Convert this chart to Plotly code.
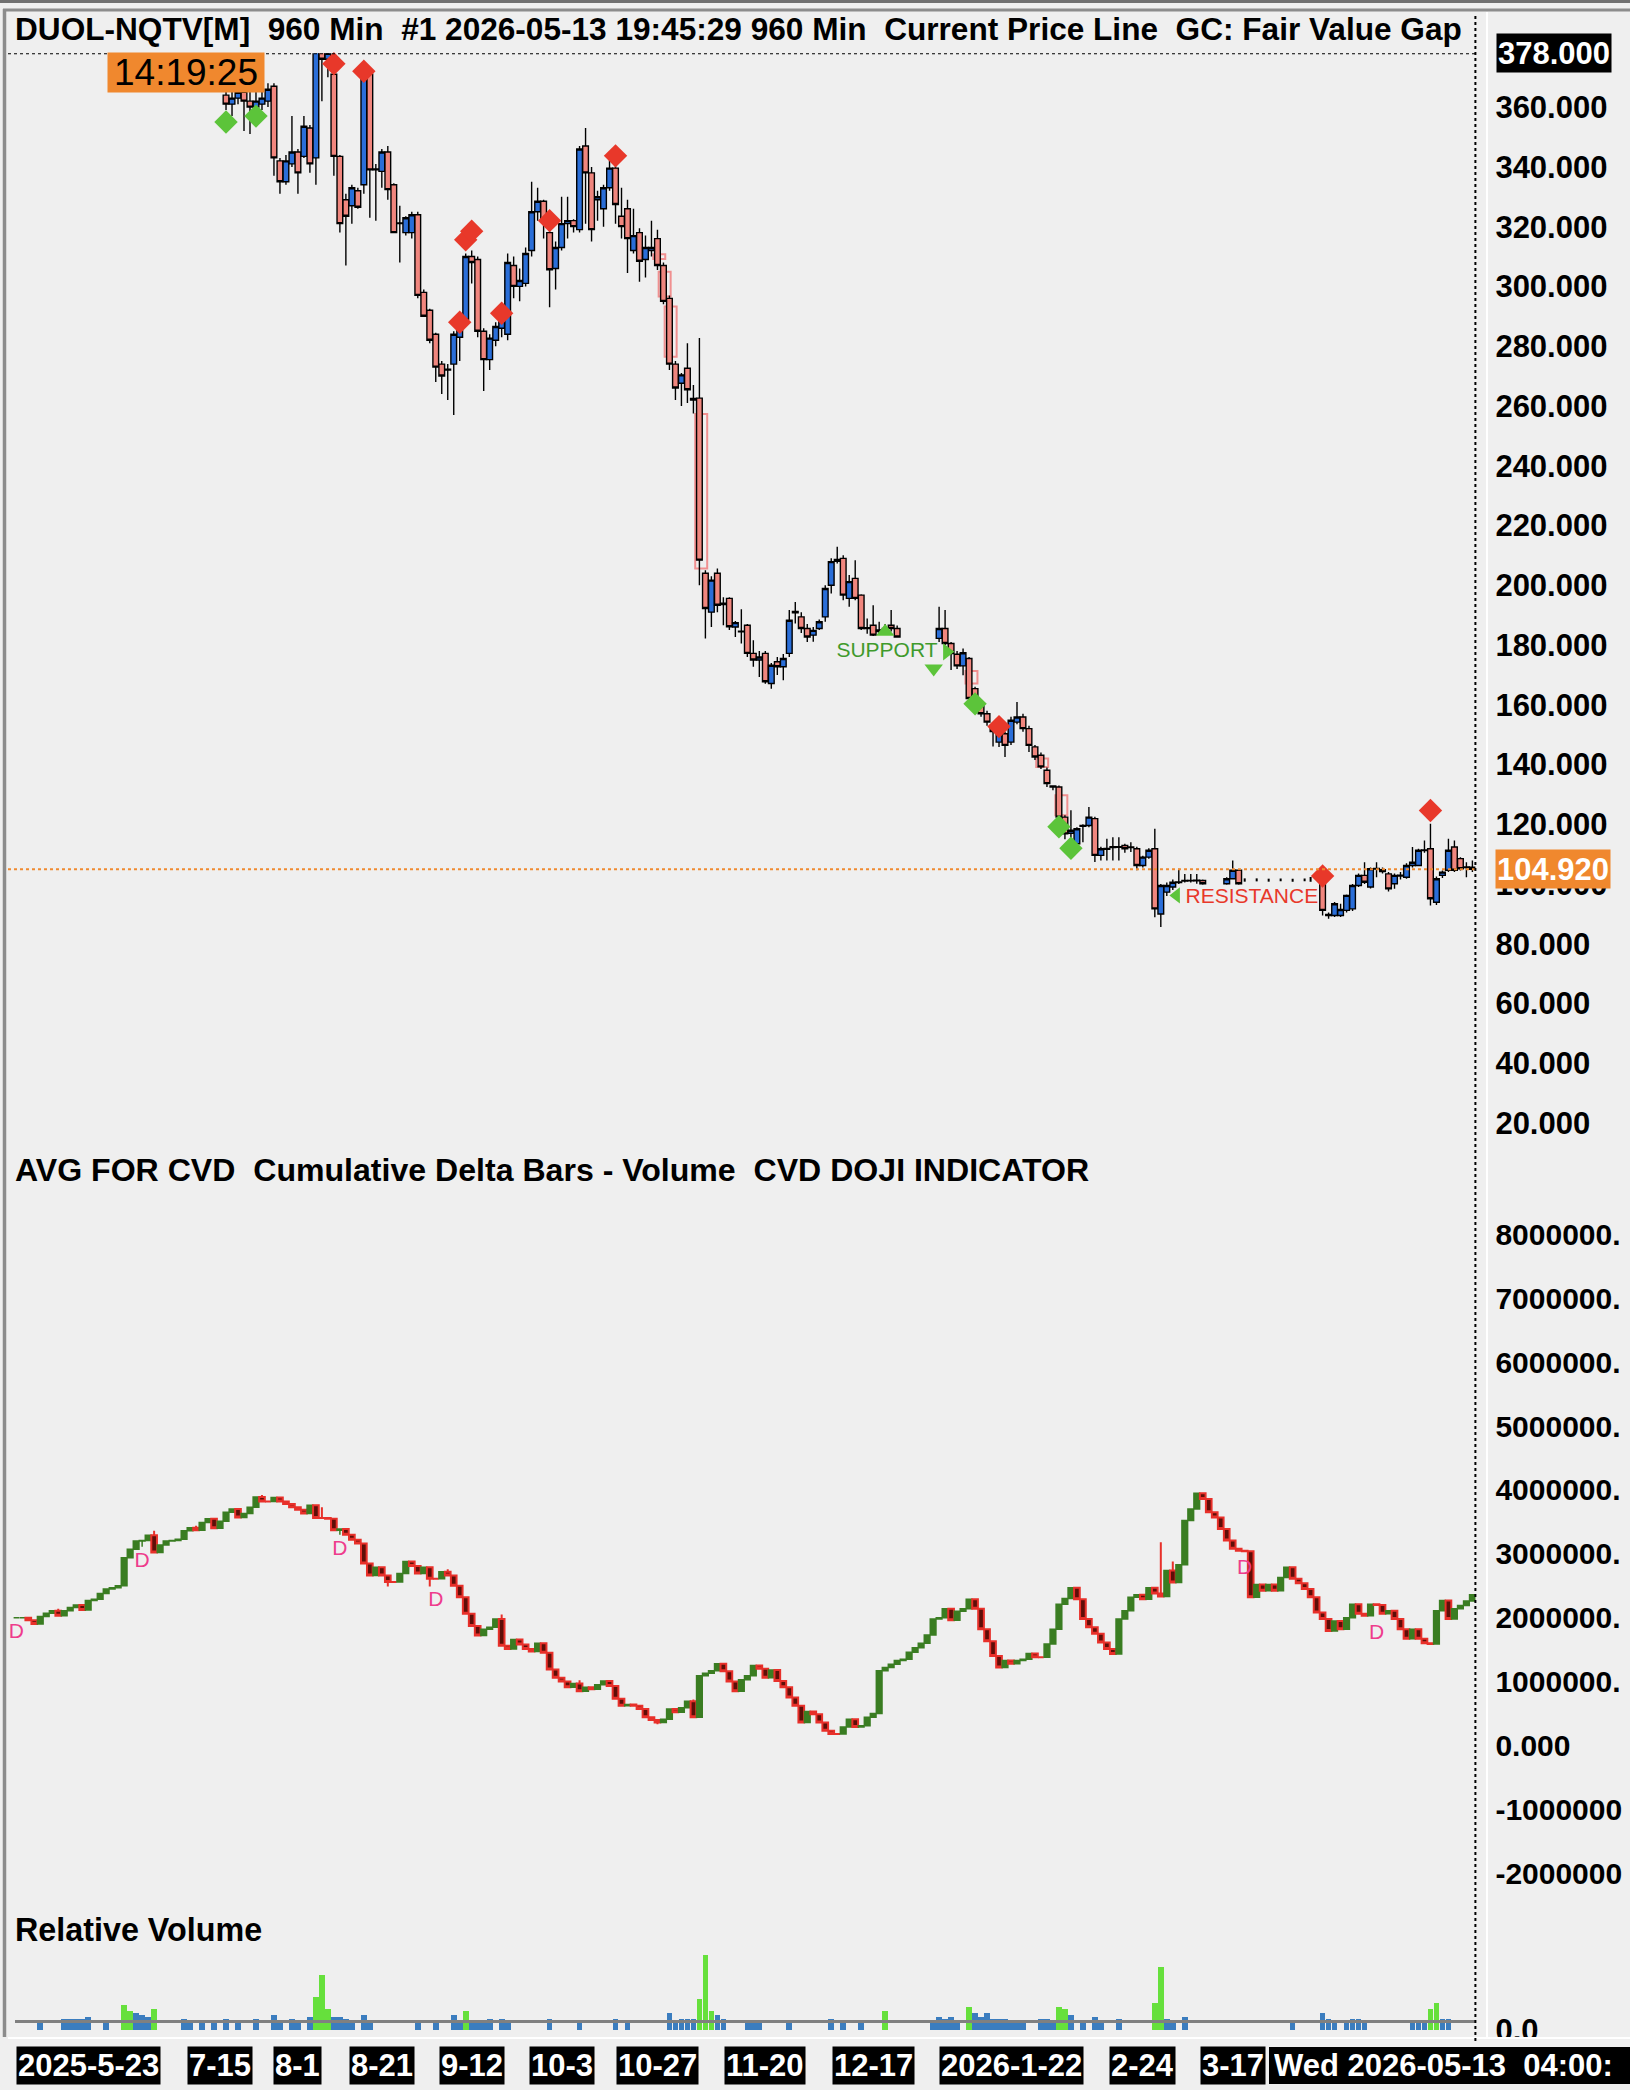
import plotly.graph_objects as go

# ======================= DATA =======================
# --- price candles (bar index, OHLC) ---
price_idx = (list(range(35, 148)) + list(range(154, 199))
             + [202, 203, 204] + list(range(218, 244)))

price_open = [
    364, 361, 363, 365, 362, 360, 361, 362,
    367, 342, 335, 341, 345, 343.5, 353, 343,
    379, 376, 371, 343.5, 329, 327, 332, 334,
    371, 339, 338.5, 345, 334, 321, 318, 318,
    324, 298, 292, 284, 274, 272, 274, 283,
    289, 310, 309, 285, 275.5, 282, 286, 284,
    307, 300, 301, 312, 325, 328.5, 318, 306,
    313, 321, 322, 319, 347, 338, 329, 326,
    333, 339.6, 323.5, 326, 312, 318, 309, 312,
    316, 307, 296, 274, 267.6, 272.6, 262, 262.6,
    204, 191, 204, 193.5, 195.6, 186, 184.4, 186.6,
    177.2, 175, 177.2, 167.1, 174.4, 172.7, 177.2, 190.8,
    189.4, 185.5, 183.3, 185.5, 189.4, 200, 208, 209,
    195.6, 202.3, 196.7, 185.5, 186.6, 184.5, 185, 186.6, 185.5,
    182.2, 185.5, 180.5, 176.9, 173, 175.5, 165.4, 160,
    157, 152, 147.5, 150.3, 147.5, 154.2, 155.9, 152,
    145.9, 143.1, 138.1, 132.5, 132.5, 122.4, 117, 113.5,
    119.3, 119.6, 121.9, 109.6, 111.6, 112.2, 112.5, 112.9,
    112.2, 111.8, 106.2, 109, 111.8, 90, 97.3, 99,
    100.5, 101, 101.2, 101.1, 101.2,
    100.1, 101.8, 104.6,
    103.4, 89.8, 89.5, 89.5, 91.2, 91.7, 99.5, 102.9,
    99, 105, 104.8, 103.4, 100.1, 102.7, 102.3, 106.2,
    106.2, 111.2, 111.8, 93.9, 102.9, 104.6, 112.4, 108.5, 105.5, 105.6,
]
price_high = [
    370, 367, 372, 368, 366, 366, 367, 368,
    368, 343, 344, 357, 346, 357, 354, 382,
    384, 383, 375, 344, 331, 334, 333, 373,
    371.5, 341, 346, 347, 334.5, 327, 323.5, 325,
    325, 299, 292.5, 284.5, 275, 274, 285, 290,
    311, 312, 310, 286, 284, 288, 292, 311,
    310, 306, 313, 335, 333, 329, 319, 315,
    330, 330, 322.5, 347, 353, 340, 332, 334,
    345, 343, 333, 329, 326, 319.5, 317, 322,
    319, 308, 297, 275, 271, 281, 267, 282.7,
    205, 203, 205.6, 196, 196, 188, 192, 187,
    181.6, 178, 178, 174, 176, 177, 191.7, 194.4,
    191, 187, 186, 188.5, 200, 209, 212.9, 210,
    203.4, 208.4, 197, 188.9, 193.3, 187.8, 187, 191.7, 186.5,
    192.8, 191.7, 181, 178, 178.8, 176, 166, 161,
    158, 153, 153, 151, 156, 160.9, 157, 153,
    146.5, 144, 139, 133, 133, 123, 124.7, 119,
    120, 125.8, 122.5, 112.5, 115.2, 115.7, 115.7, 113.5,
    114, 112.5, 109.5, 112, 118.5, 100, 100.5, 101.5,
    105.1, 103.4, 103.4, 103.4, 101.5,
    102.3, 107.9, 105,
    104, 90.5, 94, 93.4, 96.5, 100, 103.5, 107.3,
    105.5, 107.3, 105.5, 104, 103.5, 104, 107, 112.4,
    111.8, 114.6, 120.2, 102.5, 104.5, 115.2, 114.6, 109, 107.3, 107.9,
]
price_low = [
    359, 357, 361, 352, 351, 358, 359, 360,
    337, 331, 334, 340, 331, 343, 338, 334,
    362, 370, 337, 318, 307, 321, 326, 331,
    323, 322, 333, 329, 318, 308, 317, 316,
    296, 290, 281, 268, 264, 262, 257, 275,
    287, 301, 283, 265, 272, 280, 283, 282,
    296, 295, 300, 310, 322, 316, 293, 299,
    312, 316, 318, 318, 321, 315, 322, 320,
    332, 321, 316, 304.5, 311, 301.6, 303, 310,
    305.5, 294, 272, 262, 260, 261, 257.5, 200,
    182.2, 186, 191, 186.6, 185, 182.7, 180.5, 176,
    172.7, 169.3, 167, 165.4, 170, 168.2, 176, 187.2,
    184, 181, 181.1, 185, 187.8, 197.2, 207.3, 195,
    192.8, 195, 185, 183.8, 183, 183.5, 183.5, 184.5, 182.5,
    181, 180, 171.6, 172, 169.9, 161, 158.5, 156,
    153, 146, 145.9, 142.5, 146.5, 153.5, 151, 144.2,
    141.5, 138.5, 132.5, 131.4, 121.5, 115, 114, 112.5,
    114, 119, 107.4, 107.9, 107.9, 107.9, 107.9, 110.5,
    110.7, 104.6, 105.5, 108.5, 88.9, 85.6, 96, 98,
    100, 100.5, 100.5, 100.1, 99.8,
    99.8, 101.5, 99.8,
    89.5, 88.4, 89, 89, 90.5, 91, 99, 100,
    98.5, 102.3, 103.5, 97.5, 98.4, 101.5, 101.8, 105.5,
    106, 110.5, 92.8, 93, 102, 104, 104, 104.5, 102.3, 104,
]
price_close = [
    361, 363, 365, 362, 360, 362, 363, 366,
    343, 335, 342, 345, 338, 353.6, 341, 380,
    376, 378, 343.5, 321, 323.5, 333, 326.5, 371,
    339, 339.3, 345, 332.4, 318, 321.2, 323, 324,
    297, 290, 282, 273, 270, 272.3, 284, 288,
    310, 308, 285, 275.5, 282.7, 286.6, 290, 308,
    300, 302, 311, 325, 328.5, 322, 305.6, 313,
    321, 322, 320, 346, 338, 319, 330, 333,
    339.6, 327.4, 320, 316, 317, 308.4, 313, 313,
    307, 295, 274, 266, 270.4, 265.4, 262.5, 208.4,
    192.2, 201.7, 193.3, 194, 186.1, 187.5, 184.6, 177.2,
    175, 176, 167.7, 173.2, 172.7, 175.5, 188.3, 191.2,
    185.5, 182.7, 184.9, 187.8, 198.9, 207.9, 208.6, 196.7,
    201.2, 195.6, 185.5, 185.8, 183.3, 185, 185.5, 185.5, 182.7,
    185.5, 180.5, 177.1, 173, 177.4, 162.1, 159.8, 157,
    154.2, 151, 151.5, 146.4, 154.8, 155.9, 152, 146.4,
    142.5, 139.2, 133.6, 132.8, 122.4, 116.8, 118, 118.5,
    119.6, 122.4, 109.6, 111.8, 111.9, 112.5, 112.3, 111.8,
    112.4, 106.2, 109, 111.3, 91.7, 99.5, 99.5, 100.6,
    100.7, 101.2, 101.1, 101.3, 100.1,
    101.8, 104.6, 100.1,
    91.2, 89.5, 93.4, 91.5, 96.2, 99.5, 102.9, 100.6,
    105.1, 105.2, 104.2, 98.4, 102.9, 103, 106.2, 107.3,
    111.3, 111.4, 95.1, 101.8, 104, 111.3, 104.6, 105.1, 105.7, 104.92,
]

# thin (no-range) bars drawn as ticks
tick_idx = [205, 207, 209, 211, 213, 215, 216]
tick_open = [101.2, 101.2, 101.2, 101.2, 101.2, 101.2, 101.2]
tick_high = [101.9, 101.9, 101.8, 101.9, 101.8, 101.9, 102.4]
tick_low = [100.8, 100.9, 100.8, 100.9, 100.8, 100.9, 100.8]
tick_close = [101.2, 101.2, 101.2, 101.2, 101.2, 101.2, 101.3]

# --- price study markers ---
buy_idx = [35, 40, 160, 174, 176]
buy_val = [355, 357, 160.3, 119.2, 112]
sell_idx = [53, 58, 74, 75, 76, 81, 89, 100, 164, 218, 236]
sell_val = [374.5, 372, 288, 315.6, 318.5, 291, 322, 343.7, 152.7, 102.7, 124.6]

# fair value gaps: centre bar, top, bottom
fvg_idx = [107.3, 108.2, 109.2, 114.3, 159.4, 171.2, 174.4]
fvg_top = [310.8, 304.9, 293.3, 257.3, 171.3, 142.0, 129.7]
fvg_bot = [309.2, 296.6, 276.5, 205.6, 167.1, 139.2, 123.0]

support_idx, support_val = 145.3, 177.7
resist_idx, resist_val = 206.2, 95.5
sup_tri_up = (145, 184.4)
sup_tri_down = (153.1, 172.1)
sup_tri_right = (155.3, 177.7)
res_tri_left = (193.6, 96.2)

price_ticks = [20, 40, 60, 80, 100, 120, 140, 160, 180, 200, 220, 240,
               260, 280, 300, 320, 340, 360]
price_axis_top = 378.0

# --- cumulative delta (millions), closes per bar 0..243 ---
cvd_close = [
    2.00, 2.00, 1.96, 1.90, 2.02, 2.07, 2.11, 2.03, 2.11, 2.16,
    2.20, 2.12, 2.27, 2.29, 2.38, 2.45, 2.47, 2.50, 2.94, 3.07,
    3.20, 3.21, 3.29, 3.02, 3.14, 3.20, 3.21, 3.23, 3.36, 3.41,
    3.37, 3.49, 3.55, 3.40, 3.51, 3.65, 3.70, 3.57, 3.63, 3.73,
    3.89, 3.82, 3.82, 3.88, 3.82, 3.78, 3.73, 3.69, 3.63, 3.76,
    3.56, 3.56, 3.55, 3.37, 3.39, 3.30, 3.22, 3.16, 2.85, 2.66,
    2.79, 2.66, 2.56, 2.56, 2.69, 2.88, 2.81, 2.69, 2.79, 2.61,
    2.61, 2.72, 2.66, 2.50, 2.32, 2.06, 1.87, 1.72, 1.82, 1.85,
    1.98, 1.56, 1.51, 1.66, 1.58, 1.51, 1.47, 1.60, 1.45, 1.19,
    1.06, 1.00, 0.91, 0.97, 0.85, 0.91, 0.88, 0.95, 1.01, 0.93,
    0.73, 0.62, 0.64, 0.62, 0.57, 0.44, 0.40, 0.36, 0.41, 0.57,
    0.52, 0.59, 0.69, 0.44, 1.09, 1.13, 1.17, 1.28, 1.16, 1.00,
    0.85, 1.03, 1.09, 1.25, 1.20, 1.06, 1.18, 1.01, 0.91, 0.75,
    0.62, 0.36, 0.53, 0.49, 0.36, 0.23, 0.18, 0.18, 0.29, 0.41,
    0.29, 0.31, 0.44, 0.50, 1.17, 1.22, 1.27, 1.33, 1.35, 1.46,
    1.53, 1.60, 1.73, 1.98, 2.00, 2.14, 1.96, 2.10, 2.14, 2.29,
    2.14, 1.82, 1.63, 1.40, 1.22, 1.33, 1.28, 1.33, 1.35, 1.44,
    1.38, 1.38, 1.59, 1.82, 2.21, 2.30, 2.47, 2.29, 1.98, 1.85,
    1.75, 1.61, 1.51, 1.43, 1.98, 2.11, 2.32, 2.36, 2.29, 2.47,
    2.38, 2.33, 2.74, 2.55, 2.83, 3.52, 3.70, 3.95, 3.86, 3.65,
    3.57, 3.39, 3.21, 3.08, 3.05, 3.04, 2.32, 2.52, 2.42, 2.52,
    2.42, 2.63, 2.79, 2.61, 2.54, 2.45, 2.32, 2.08, 1.98, 1.79,
    1.95, 1.82, 2.00, 2.21, 2.06, 2.03, 2.21, 2.20, 2.06, 2.11,
    1.98, 1.82, 1.67, 1.82, 1.67, 1.60, 1.59, 2.11, 2.27, 1.98,
    2.14, 2.19, 2.26, 2.36,
]
cvd_wick_hi_idx = [7, 23, 30, 41, 50, 51, 72, 81, 94, 113, 191, 193]
cvd_wick_hi_val = [2.14, 3.36, 3.44, 3.92, 3.77, 3.73, 2.76, 2.05, 1.02, 0.72, 3.18, 2.88]
cvd_wick_lo_idx = [21, 54, 62, 69, 107]
cvd_wick_lo_val = [3.11, 3.30, 2.49, 2.49, 0.33]

doji_idx = [0, 21, 54, 70, 205, 227]
doji_val = [1.77, 2.87, 3.07, 2.27, 2.76, 1.75]

cvd_ticks = [-2, -1, 0, 1, 2, 3, 4, 5, 6, 7, 8]   # millions
# scale labels as far as they are visible at the right edge of the window
cvd_tick_text = ["-2000000", "-1000000", "0.000", "1000000.", "2000000.", "3000000.",
                 "4000000.", "5000000.", "6000000.", "7000000.", "8000000."]

# --- relative volume ---
vol_idx = [4, 8, 9, 10, 11, 12, 15, 18, 19, 20, 21, 22, 23, 28, 29, 31, 33, 35, 37, 40,
           43, 44, 46, 47, 49, 50, 51, 52, 53, 54, 55, 56, 58, 59, 67, 70, 73, 74, 75, 76,
           77, 78, 79, 81, 82, 89, 94, 100, 102, 109, 110, 111, 112, 113, 114, 115, 116, 117,
           118, 122, 123, 124, 129, 136, 138, 141, 145, 153, 154, 155, 156, 157, 159, 160,
           161, 162, 163, 164, 165, 166, 167, 168, 171, 172, 173, 174, 175, 176, 178, 180,
           181, 184, 190, 191, 192, 193, 195, 213, 218, 219, 220, 222, 223, 224, 225, 233,
           234, 235, 236, 237, 238, 239]
vol_val = [0.88, 1.26, 1.26, 1.26, 1.26, 1.50, 0.88, 2.92, 2.23, 1.95, 1.76, 1.53, 2.42, 1.26,
           0.88, 0.88, 0.88, 1.26, 0.88, 1.26, 1.76, 0.88, 1.26, 0.88, 1.53, 3.84, 6.38, 2.42,
           1.53, 1.53, 1.26, 0.88, 1.76, 0.88, 0.88, 0.88, 1.76, 0.88, 2.23, 0.88, 0.88, 0.88,
           1.26, 1.26, 0.88, 1.26, 0.88, 1.26, 0.88, 1.95, 0.88, 1.26, 1.26, 1.26, 3.57, 8.69,
           2.23, 1.76, 1.26, 0.88, 0.88, 0.88, 0.88, 1.26, 0.88, 0.88, 2.23, 0.88, 1.53, 1.26,
           1.53, 0.88, 2.69, 1.99, 1.53, 1.99, 1.26, 1.26, 1.26, 0.88, 0.88, 0.88, 1.26, 1.26,
           0.88, 2.69, 2.45, 1.76, 0.88, 1.53, 0.88, 1.26, 3.19, 7.30, 1.26, 0.88, 1.53, 0.88,
           1.99, 1.26, 0.88, 0.88, 1.26, 1.26, 0.88, 0.88, 0.88, 0.88, 2.45, 3.15, 1.26, 1.26]
vol_avg_level = 1.0
vol_high_threshold = 2.0

# --- time axis labels (bar index, text) ---
date_tick_idx = [12, 34, 47, 61, 76, 91, 107, 125, 143, 166, 188, 203]
date_tick_text = ["2025-5-23", "7-15", "8-1", "8-21", "9-12", "10-3", "10-27",
                  "11-20", "12-17", "2026-1-22", "2-24", "3-17"]
last_bar_text = "Wed 2026-05-13\u00a0 04:00:"
timer_text = "14:19:25"

title_text = ("DUOL-NQTV[M]\u00a0 960 Min\u00a0 #1 2026-05-13 19:45:29 960 Min\u00a0 "
              "Current Price Line\u00a0 GC: Fair Value Gap")
cvd_title = "AVG FOR CVD\u00a0 Cumulative Delta Bars - Volume\u00a0 CVD DOJI INDICATOR"
vol_title = "Relative Volume"

assert len(price_open) == len(price_idx) == len(price_high) == len(price_low) == len(price_close)
assert len(cvd_close) == 244 and len(vol_idx) == len(vol_val)

# ======================= LAYOUT HELPERS =======================
W, H_REF = 1630, 2090     # reference geometry
H_FIG = 2102              # figure height (page is rescaled to the window afterwards)
PX0, PX1 = 13.3, 1475.4
FONT = "Liberation Sans, Arial, sans-serif"
BG = "#efefef"


def fx(px):
    return px / W


def fy(px):
    return 1 - px / H_REF


XD = [fx(PX0), fx(PX1)]
XR = [-0.5, 243.5]

# derived CVD bars (a cumulative bar opens at the previous close)
cvd_open = [cvd_close[0]] + cvd_close[:-1]
hi_map = dict(zip(cvd_wick_hi_idx, cvd_wick_hi_val))
lo_map = dict(zip(cvd_wick_lo_idx, cvd_wick_lo_val))
cvd_high = [max(o, c, hi_map.get(i, -1e9)) for i, (o, c) in enumerate(zip(cvd_open, cvd_close))]
cvd_low = [min(o, c, lo_map.get(i, 1e9)) for i, (o, c) in enumerate(zip(cvd_open, cvd_close))]
M = 1e6

fig = go.Figure()

# ---------------- price panel ----------------
fig.add_trace(go.Candlestick(
    x=price_idx, open=price_open, high=price_high, low=price_low, close=price_close,
    xaxis="x", yaxis="y", whiskerwidth=0, hoverinfo="skip", showlegend=False,
    increasing=dict(line=dict(color="#000000", width=1.4), fillcolor="#2a6ed8"),
    decreasing=dict(line=dict(color="#000000", width=1.4), fillcolor="#f0867e"),
))
fig.add_trace(go.Ohlc(
    x=tick_idx, open=tick_open, high=tick_high, low=tick_low, close=tick_close,
    xaxis="x", yaxis="y", tickwidth=0, hoverinfo="skip", showlegend=False,
    increasing=dict(line=dict(color="#000000", width=2)),
    decreasing=dict(line=dict(color="#000000", width=2)),
))
fig.add_trace(go.Scatter(x=buy_idx, y=buy_val, mode="markers", xaxis="x", yaxis="y",
                         marker=dict(symbol="diamond", size=18, color="#5cc43a"),
                         hoverinfo="skip", showlegend=False, cliponaxis=False))
fig.add_trace(go.Scatter(x=sell_idx, y=sell_val, mode="markers", xaxis="x", yaxis="y",
                         marker=dict(symbol="diamond", size=18, color="#e8382a"),
                         hoverinfo="skip", showlegend=False, cliponaxis=False))
for sym, pt, sz in [("triangle-up", sup_tri_up, 16), ("triangle-down", sup_tri_down, 16),
                    ("triangle-right", sup_tri_right, 15), ("triangle-left", res_tri_left, 14)]:
    fig.add_trace(go.Scatter(x=[pt[0]], y=[pt[1]], mode="markers", xaxis="x", yaxis="y",
                             marker=dict(symbol=sym, size=sz, color="#5cc43a"),
                             hoverinfo="skip", showlegend=False))
fig.add_trace(go.Scatter(x=[support_idx], y=[support_val], mode="text", text=["SUPPORT"],
                         textfont=dict(family=FONT, size=21, color="#3f9a2c"),
                         xaxis="x", yaxis="y", hoverinfo="skip", showlegend=False))
fig.add_trace(go.Scatter(x=[resist_idx], y=[resist_val], mode="text", text=["RESISTANCE"],
                         textfont=dict(family=FONT, size=21, color="#e8382a"),
                         xaxis="x", yaxis="y", hoverinfo="skip", showlegend=False))

# ---------------- CVD panel ----------------
fig.add_trace(go.Candlestick(
    x=list(range(len(cvd_close))),
    open=[v * M for v in cvd_open], high=[v * M for v in cvd_high],
    low=[v * M for v in cvd_low], close=[v * M for v in cvd_close],
    xaxis="x2", yaxis="y2", whiskerwidth=0, hoverinfo="skip", showlegend=False,
    increasing=dict(line=dict(color="#3a7d22", width=1.5), fillcolor="#3a7d22"),
    decreasing=dict(line=dict(color="#e8302a", width=2), fillcolor="#5e0e08"),
))
fig.add_trace(go.Scatter(x=doji_idx, y=[v * M for v in doji_val], mode="text",
                         text=["D"] * len(doji_idx),
                         textfont=dict(family=FONT, size=21, color="#ee3c8c"),
                         xaxis="x2", yaxis="y2", hoverinfo="skip", showlegend=False,
                         cliponaxis=False))

# ---------------- volume panel ----------------
fig.add_trace(go.Bar(x=vol_idx, y=vol_val, xaxis="x3", yaxis="y3", width=0.95,
                     marker=dict(color=["#66e03c" if v > vol_high_threshold else "#3b7dbf"
                                        for v in vol_val], line=dict(width=0)),
                     hoverinfo="skip", showlegend=False))

# ---------------- axes ----------------
hidden_x = dict(domain=XD, range=XR, visible=False, fixedrange=True,
                rangeslider=dict(visible=False))
price_top_px, price_bot_px = 53.3, 1146.0
ppx = 2.986  # px per dollar
price_lo = 100 - (price_bot_px - 883.7) / ppx
cvd_zero_px, cvd_px_per_m = 1744.6, 63.84
cvd_top_px, cvd_bot_px = 1193.0, 1906.0
vol_zero_px, vol_px_per_unit = 2029.3, 8.663
vol_top_px, vol_bot_px = 1940.0, 2036.0


def axis_style(size):
    return dict(side="right", showgrid=False, zeroline=False, showline=False,
                ticks="", ticklabelstandoff=19, fixedrange=True,
                tickfont=dict(family=FONT, size=size, color="#000000", weight="bold"))


fig.update_layout(
    width=W, height=H_FIG, autosize=False,
    margin=dict(l=0, r=0, t=0, b=0, pad=0),
    paper_bgcolor=BG, plot_bgcolor=BG,
    showlegend=False, hovermode=False,
    boxgap=0.05, boxgroupgap=0.0,
    bargap=0,
    xaxis=dict(**hidden_x, anchor="y"),
    xaxis2=dict(**hidden_x, anchor="y2"),
    xaxis3=dict(**hidden_x, anchor="y3"),
    yaxis=dict(domain=[fy(price_bot_px), fy(price_top_px)],
               range=[price_lo, price_axis_top], anchor="x",
               tickvals=price_ticks, ticktext=[f"{v:.3f}" for v in price_ticks],
               **axis_style(31)),
    yaxis2=dict(domain=[fy(cvd_bot_px), fy(cvd_top_px)],
                range=[(cvd_zero_px - cvd_bot_px) / cvd_px_per_m * M,
                       (cvd_zero_px - cvd_top_px) / cvd_px_per_m * M],
                anchor="x2",
                tickvals=[v * M for v in cvd_ticks], ticktext=cvd_tick_text,
                **axis_style(30)),
    yaxis3=dict(domain=[fy(vol_bot_px), fy(vol_top_px)],
                range=[-(vol_bot_px - vol_zero_px) / vol_px_per_unit,
                       (vol_zero_px - vol_top_px) / vol_px_per_unit],
                anchor="x3", tickvals=[0], ticktext=["0.0"], **axis_style(31)),
)

# ---------------- shapes ----------------
shapes = []
for c, t, b in zip(fvg_idx, fvg_top, fvg_bot):
    shapes.append(dict(type="rect", xref="x", yref="y", x0=c - 1.0, x1=c + 1.0, y0=b, y1=t,
                       line=dict(color="#f09090", width=2), fillcolor="rgba(0,0,0,0)",
                       layer="below"))
# window borders
shapes.append(dict(type="rect", xref="paper", yref="paper", x0=0, x1=1, y0=fy(3), y1=1,
                   line=dict(width=0), fillcolor="#707070", layer="above"))
shapes.append(dict(type="line", xref="paper", yref="paper", x0=fx(3), x1=1, y0=fy(10), y1=fy(10),
                   line=dict(color="#8c8c8c", width=3), layer="above"))
shapes.append(dict(type="line", xref="paper", yref="paper", x0=fx(4.5), x1=fx(4.5),
                   y0=fy(2037), y1=fy(9), line=dict(color="#8c8c8c", width=3.5), layer="above"))
# top dotted line at chart max
shapes.append(dict(type="line", xref="paper", yref="y", x0=fx(8), x1=fx(PX1),
                   y0=price_axis_top, y1=price_axis_top,
                   line=dict(color="#000000", width=2, dash="dot"), layer="above"))
# current price line
shapes.append(dict(type="line", xref="paper", yref="y", x0=fx(8), x1=fx(PX1),
                   y0=price_close[-1], y1=price_close[-1],
                   line=dict(color="#f08a30", width=2, dash="dot"), layer="above"))
# average volume level
shapes.append(dict(type="line", xref="paper", yref="y3", x0=fx(15), x1=fx(PX1),
                   y0=vol_avg_level, y1=vol_avg_level,
                   line=dict(color="#808080", width=3), layer="above"))
# scale separator (white)
shapes.append(dict(type="line", xref="paper", yref="paper", x0=fx(1487), x1=fx(1487),
                   y0=fy(2037), y1=fy(12), line=dict(color="#ffffff", width=2), layer="above"))
# bottom time band cover + edge
shapes.append(dict(type="rect", xref="paper", yref="paper", x0=0, x1=1, y0=0, y1=fy(2036),
                   line=dict(width=0), fillcolor=BG, layer="above"))
shapes.append(dict(type="line", xref="paper", yref="paper", x0=fx(8), x1=1, y0=fy(2037),
                   y1=fy(2037), line=dict(color="#ffffff", width=2), layer="above"))
# last bar time box background running to the window edge
shapes.append(dict(type="rect", xref="paper", yref="paper", x0=fx(1269), x1=1,
                   y0=fy(2083), y1=fy(2046), line=dict(width=0), fillcolor="#000000",
                   layer="above"))
# right edge dotted line
shapes.append(dict(type="line", xref="paper", yref="paper", x0=fx(PX1), x1=fx(PX1),
                   y0=fy(2040), y1=fy(13), line=dict(color="#000000", width=2, dash="dot"),
                   layer="above"))
fig.update_layout(shapes=shapes)

# ---------------- annotations ----------------
ann = []
ann.append(dict(xref="paper", yref="paper", x=fx(13), y=fy(29), xanchor="left", yanchor="middle",
                text=title_text, showarrow=False,
                font=dict(family=FONT, size=31.6, color="#000", weight="bold")))
ann.append(dict(xref="paper", yref="paper", x=fx(13), y=fy(1169), xanchor="left",
                yanchor="middle", text=cvd_title, showarrow=False,
                font=dict(family=FONT, size=32.1, color="#000", weight="bold")))
ann.append(dict(xref="paper", yref="paper", x=fx(13), y=fy(1929), xanchor="left",
                yanchor="middle", text=vol_title, showarrow=False,
                font=dict(family=FONT, size=32.3, color="#000", weight="bold")))
ann.append(dict(xref="paper", yref="paper", x=fx(107), y=fy(72.5), xanchor="left",
                yanchor="middle", text=timer_text, showarrow=False, bgcolor="#f0882e",
                borderpad=0, height=39, width=156,
                font=dict(family=FONT, size=37, color="#000")))
ann.append(dict(xref="paper", yref="y", x=fx(1496), y=price_axis_top, xanchor="left",
                yanchor="middle", text=f"{price_axis_top:.3f}", showarrow=False,
                bgcolor="#000000", borderpad=1, height=36,
                font=dict(family=FONT, size=31, color="#ffffff", weight="bold")))
ann.append(dict(xref="paper", yref="y", x=fx(1495), y=price_close[-1], xanchor="left",
                yanchor="middle", text=f"{price_close[-1]:.3f}", showarrow=False,
                bgcolor="#f0882e", borderpad=1, height=36,
                font=dict(family=FONT, size=31, color="#ffffff", weight="bold")))
for xi, t in zip(date_tick_idx, date_tick_text):
    ann.append(dict(xref="x3", yref="paper", x=xi, y=fy(2064.5), xanchor="center",
                    yanchor="middle", text=t, showarrow=False, bgcolor="#000000",
                    borderpad=1, height=35,
                    font=dict(family=FONT, size=31, color="#ffffff", weight="bold")))
ann.append(dict(xref="paper", yref="paper", x=fx(1272), y=fy(2064.5), xanchor="left",
                yanchor="middle", text=last_bar_text, showarrow=False,
                borderpad=1, height=35,
                font=dict(family=FONT, size=31, color="#ffffff", weight="bold")))
fig.update_layout(annotations=ann)

fig.write_html(
    "out.html",
    config={"displayModeBar": False, "staticPlot": True},
    post_script=("document.body.style.margin='0px';"
                 "document.body.style.background='#efefef';"
                 "document.documentElement.style.background='#efefef';"
                 "document.documentElement.style.overflow='hidden';"),
)
